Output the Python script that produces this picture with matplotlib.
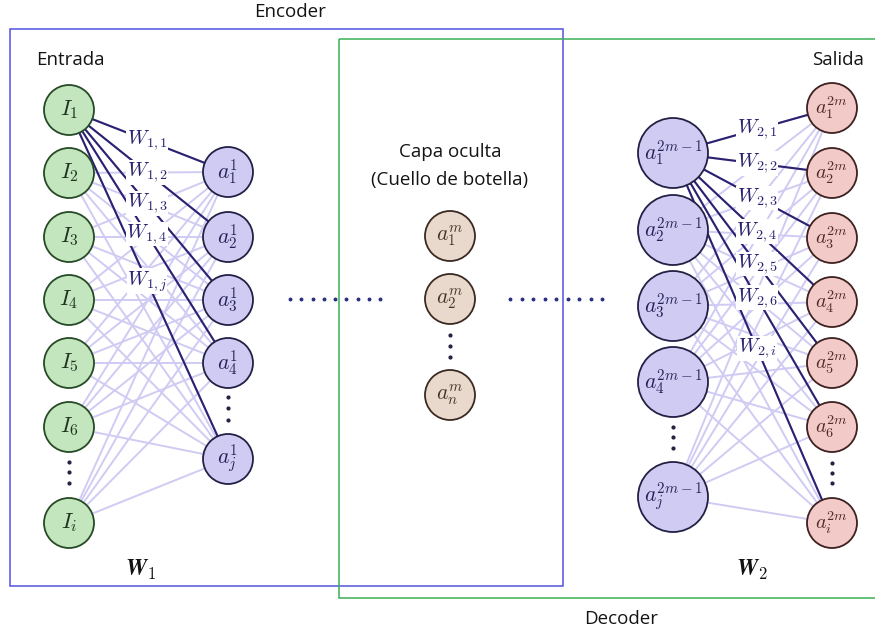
import matplotlib
matplotlib.use("Agg")
import matplotlib.pyplot as plt
from matplotlib.patches import Circle, Rectangle

plt.rcParams["mathtext.fontset"] = "cm"
plt.rcParams["font.family"] = ["Open Sans", "DejaVu Sans"]

# labels of the diagram
input_labels = [r"$I_1$", r"$I_2$", r"$I_3$", r"$I_4$", r"$I_5$", r"$I_6$", r"$I_i$"]
hidden1_labels = [r"$a_1^1$", r"$a_2^1$", r"$a_3^1$", r"$a_4^1$", r"$a_j^1$"]
bottleneck_labels = [r"$a_1^m$", r"$a_2^m$", r"$a_n^m$"]
hidden2_labels = [r"$a_1^{2m-1}$", r"$a_2^{2m-1}$", r"$a_3^{2m-1}$", r"$a_4^{2m-1}$", r"$a_j^{2m-1}$"]
output_labels = [r"$a_1^{2m}$", r"$a_2^{2m}$", r"$a_3^{2m}$", r"$a_4^{2m}$", r"$a_5^{2m}$", r"$a_6^{2m}$", r"$a_i^{2m}$"]
w1_labels = [r"$W_{1,1}$", r"$W_{1,2}$", r"$W_{1,3}$", r"$W_{1,4}$", r"$W_{1,j}$"]
w2_labels = [r"$W_{2,1}$", r"$W_{2;2}$", r"$W_{2,3}$", r"$W_{2,4}$", r"$W_{2,5}$", r"$W_{2,6}$", r"$W_{2,i}$"]

# layout (pixel coordinates)
in_x, in_y = 69, [110, 173, 237, 300, 363, 427, 523]
h1_x, h1_y = 228, [172, 237, 300, 363, 459]
bn_x, bn_y = 450, [236, 299, 395]
h2_x, h2_y = 673, [153, 230, 306, 382, 497]
out_x, out_y = 832, [108, 173, 238, 302, 363, 427, 523]
w1_x, w2_x = 147, 757

light = "#d0cbf3"
dark = "#2a2270"
txt = "#141414"

fig = plt.figure(figsize=(8.75, 6.34), dpi=100)
ax = fig.add_axes([0, 0, 1, 1])
ax.set_xlim(0, 875)
ax.set_ylim(634, 0)
ax.axis("off")


def node(x, y, r, label, face, edge, tcol, fs):
    ax.add_patch(Circle((x, y), r, facecolor=face, edgecolor=edge, lw=1.3, zorder=4))
    ax.text(x, y, label, ha="center", va="center", fontsize=fs, color=tcol, zorder=5)


def vdots(x, ys):
    ax.plot([x] * len(ys), ys, "o", color="#222244", ms=2.0, zorder=5)


# light full connections
for y0 in in_y:
    for y1 in h1_y:
        ax.plot([in_x, h1_x], [y0, y1], color=light, lw=1.4, zorder=1)
for y0 in h2_y:
    for y1 in out_y:
        ax.plot([h2_x, out_x], [y0, y1], color=light, lw=1.4, zorder=1)

# highlighted weights from the first node
for y1, lab in zip(h1_y, w1_labels):
    ax.plot([in_x, h1_x], [in_y[0], y1], color=dark, lw=1.5, zorder=2)
    ly = in_y[0] + (y1 - in_y[0]) * (w1_x - in_x) / (h1_x - in_x)
    ax.text(w1_x, ly, lab, ha="center", va="center", fontsize=14.5, color=dark, zorder=3,
            bbox=dict(facecolor="white", edgecolor="none", pad=0.3))
for y1, lab in zip(out_y, w2_labels):
    ax.plot([h2_x, out_x], [h2_y[0], y1], color=dark, lw=1.5, zorder=2)
    ly = h2_y[0] + (y1 - h2_y[0]) * (w2_x - h2_x) / (out_x - h2_x)
    ax.text(w2_x, ly, lab, ha="center", va="center", fontsize=14.5, color=dark, zorder=3,
            bbox=dict(facecolor="white", edgecolor="none", pad=0.3))

for y, lab in zip(in_y, input_labels):
    node(in_x, y, 25, lab, "#c3e6bf", "#264a26", "#1f331f", 16)
for y, lab in zip(h1_y, hidden1_labels):
    node(h1_x, y, 25, lab, "#cfcbf3", "#232045", "#262258", 15.5)
for y, lab in zip(bn_y, bottleneck_labels):
    node(bn_x, y, 25, lab, "#e9d9cd", "#3a2a22", "#44342c", 15.5)
for y, lab in zip(h2_y, hidden2_labels):
    node(h2_x, y, 35, lab, "#cfcbf3", "#232045", "#262258", 15.5)
for y, lab in zip(out_y, output_labels):
    node(out_x, y, 25, lab, "#f2cbc8", "#3e2020", "#532a2a", 14.5)

vdots(in_x, [462, 472, 483])
vdots(h1_x, [397, 408, 420])
vdots(bn_x, [335, 346, 357])
vdots(h2_x, [427, 437, 448])
vdots(out_x, [463, 473, 483])

# horizontal dotted connections
ax.plot([290 + 11.25 * k for k in range(9)], [299] * 9, "o", color="#2a3080", ms=1.8, zorder=5)
ax.plot([510 + 11.5 * k for k in range(9)], [299] * 9, "o", color="#2a3080", ms=1.8, zorder=5)

# encoder / decoder boxes
ax.add_patch(Rectangle((10, 29), 553, 557, fill=False, edgecolor="#5151e0", lw=1.1, zorder=6))
ax.add_patch(Rectangle((339, 39), 560, 559, fill=False, edgecolor="#3cb054", lw=1.1, zorder=6))

ax.text(290, 12, "Encoder", ha="center", va="center", fontsize=13.5, color=txt)
ax.text(621, 619, "Decoder", ha="center", va="center", fontsize=13.5, color=txt)
ax.text(70, 60, "Entrada", ha="center", va="center", fontsize=13.5, color=txt)
ax.text(838, 60, "Salida", ha="center", va="center", fontsize=13.5, color=txt)
ax.text(450, 152, "Capa oculta", ha="center", va="center", fontsize=13.5, color=txt)
ax.text(450, 180, "(Cuello de botella)", ha="center", va="center", fontsize=13.5, color=txt)

ax.text(140, 570, r"$\boldsymbol{W}_{\mathbf{1}}$", ha="center", va="center", fontsize=17, color="#111111")
ax.text(752, 570, r"$\boldsymbol{W}_{\mathbf{2}}$", ha="center", va="center", fontsize=17, color="#111111")

fig.savefig("out.png", dpi=100)
plt.close(fig)
